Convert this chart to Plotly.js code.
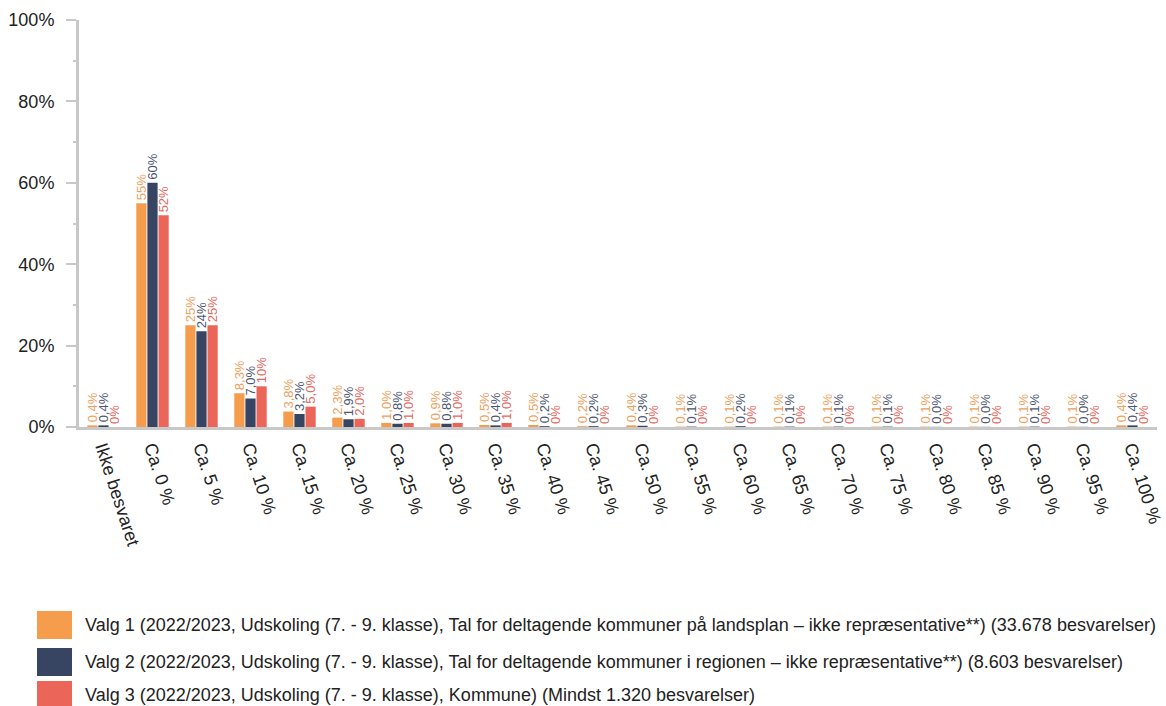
<!DOCTYPE html>
<html>
<head>
<meta charset="utf-8">
<script src="https://cdn.plot.ly/plotly-3.0.1.min.js"></script>
<style>html,body{margin:0;padding:0;background:#fff;overflow:hidden}#chart{width:1166px;height:706px}</style>
</head>
<body>
<div id="chart"></div>
<script>
const categories = ["Ikke besvaret","Ca. 0 %","Ca. 5 %","Ca. 10 %","Ca. 15 %","Ca. 20 %","Ca. 25 %","Ca. 30 %","Ca. 35 %","Ca. 40 %","Ca. 45 %","Ca. 50 %","Ca. 55 %","Ca. 60 %","Ca. 65 %","Ca. 70 %","Ca. 75 %","Ca. 80 %","Ca. 85 %","Ca. 90 %","Ca. 95 %","Ca. 100 %"];

const seriesNames = [
  "Valg 1 (2022/2023, Udskoling (7. - 9. klasse), Tal for deltagende kommuner på landsplan – ikke repræsentative**) (33.678 besvarelser)",
  "Valg 2 (2022/2023, Udskoling (7. - 9. klasse), Tal for deltagende kommuner i regionen – ikke repræsentative**) (8.603 besvarelser)",
  "Valg 3 (2022/2023, Udskoling (7. - 9. klasse), Kommune) (Mindst 1.320 besvarelser)"
];

const valg1 = [0.4, 55, 25, 8.3, 3.8, 2.3, 1.0, 0.9, 0.5, 0.5, 0.2, 0.4, 0.1, 0.1, 0.1, 0.1, 0.1, 0.1, 0.1, 0.1, 0.1, 0.4];
const valg2 = [0.4, 60, 23.5, 7.0, 3.2, 1.9, 0.8, 0.8, 0.4, 0.2, 0.2, 0.3, 0.1, 0.2, 0.1, 0.1, 0.1, 0.04, 0.04, 0.1, 0.04, 0.4];
const valg3 = [0, 52, 25, 10, 5.0, 2.0, 1.0, 1.0, 1.0, 0, 0, 0, 0, 0, 0, 0, 0, 0, 0, 0, 0, 0];

const labels1 = ["0,4%","55%","25%","8,3%","3,8%","2,3%","1,0%","0,9%","0,5%","0,5%","0,2%","0,4%","0,1%","0,1%","0,1%","0,1%","0,1%","0,1%","0,1%","0,1%","0,1%","0,4%"];
const labels2 = ["0,4%","60%","24%","7,0%","3,2%","1,9%","0,8%","0,8%","0,4%","0,2%","0,2%","0,3%","0,1%","0,2%","0,1%","0,1%","0,1%","0,0%","0,0%","0,1%","0,0%","0,4%"];
const labels3 = ["0%","52%","25%","10%","5,0%","2,0%","1,0%","1,0%","1,0%","0%","0%","0%","0%","0%","0%","0%","0%","0%","0%","0%","0%","0%"];

const barColors = ["#F59D4D", "#374562", "#EB6659"];
const labelColors = ["#EDA15E", "#4B5774", "#E3695E"];

const values = [valg1, valg2, valg3];
const labels = [labels1, labels2, labels3];

const FONT = "'Liberation Sans', Arial, sans-serif";

const traces = values.map((v, i) => ({
  type: "bar",
  x: categories,
  y: v,
  name: seriesNames[i],
  marker: {color: barColors[i]},
  text: labels[i],
  textposition: "outside",
  textangle: -90,
  cliponaxis: false,
  constraintext: "none",
  textfont: {family: FONT, size: 13, color: labelColors[i]},
  hoverinfo: "x+y+name",
  showlegend: false
}));

const W = 1166, H = 706;
const M = {l: 79, r: 9, t: 20, b: 279};
const pw = W - M.l - M.r, ph = H - M.t - M.b;
const px = x => (x - M.l) / pw;
const py = y => (H - M.b - y) / ph;

const legendY = [625, 662, 695];
const shapes = [];
const annotations = [];
seriesNames.forEach((n, i) => {
  shapes.push({type: "rect", xref: "paper", yref: "paper",
    x0: px(37), x1: px(72), y0: py(legendY[i] - 14), y1: py(legendY[i] + 14),
    fillcolor: barColors[i], line: {width: 0}});
  annotations.push({xref: "paper", yref: "paper", x: px(83), y: py(legendY[i]),
    xanchor: "left", yanchor: "middle", showarrow: false, text: n,
    font: {family: FONT, size: 18, color: "#222"}});
});

const layout = {
  width: W, height: H,
  margin: M,
  paper_bgcolor: "#fff", plot_bgcolor: "#fff",
  barmode: "group",
  bargap: 0.32,
  bargroupgap: 0.08,
  font: {family: FONT, size: 18, color: "#222"},
  xaxis: {
    type: "category",
    showline: true, linecolor: "#C8C8C8", linewidth: 3,
    ticks: "", showgrid: false, zeroline: false,
    tickangle: 72,
    tickfont: {family: FONT, size: 18, color: "#222"}
  },
  yaxis: {
    range: [0, 100],
    dtick: 20, tick0: 0,
    ticksuffix: "%",
    showline: true, linecolor: "#C8C8C8", linewidth: 3,
    ticks: "outside", ticklen: 10, tickwidth: 2, tickcolor: "#C8C8C8",
    ticklabelstandoff: 8,
    minor: {dtick: 10, ticks: "outside", ticklen: 3, tickwidth: 2, tickcolor: "#C8C8C8", showgrid: false},
    showgrid: false, zeroline: false,
    tickfont: {family: FONT, size: 18, color: "#222"}
  },
  shapes: shapes,
  annotations: annotations,
  showlegend: false
};

Plotly.newPlot("chart", traces, layout, {displayModeBar: false, staticPlot: true});
</script>
</body>
</html>
